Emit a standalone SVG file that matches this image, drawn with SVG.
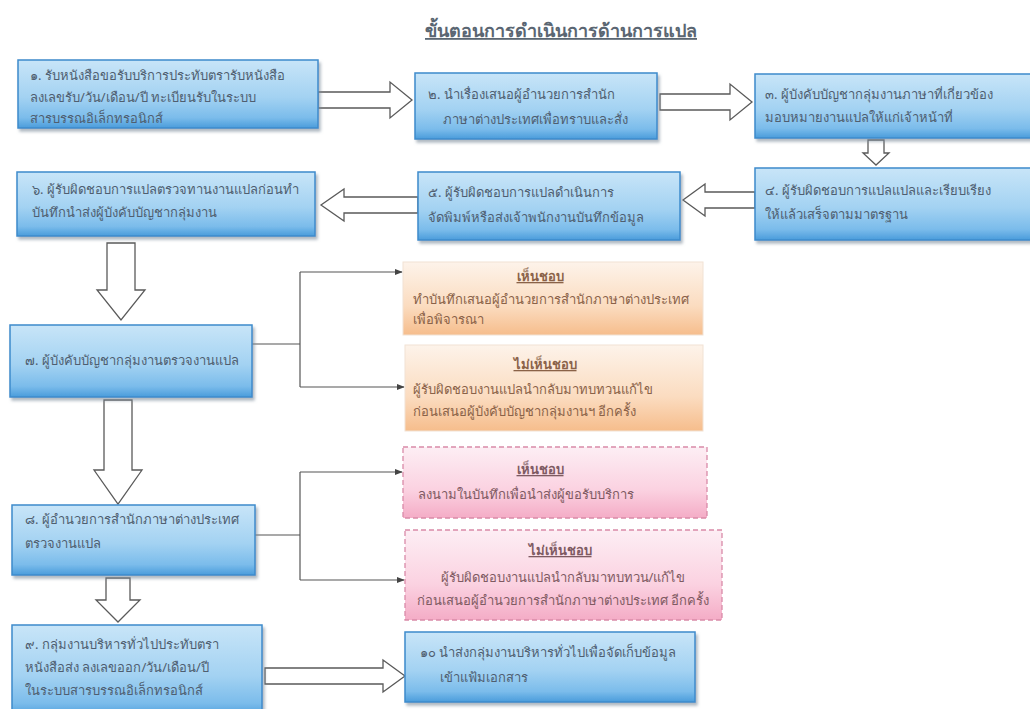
<svg xmlns="http://www.w3.org/2000/svg" width="1030" height="709" viewBox="0 0 1030 709">
<defs>
<linearGradient id="gBlue" x1="0" y1="0" x2="0" y2="1">
<stop offset="0" stop-color="#c8e5f8"/>
<stop offset="0.55" stop-color="#a3d2f2"/>
<stop offset="0.85" stop-color="#7bbceb"/>
<stop offset="1" stop-color="#4a9cdb"/>
</linearGradient>
<linearGradient id="gOrange" x1="0" y1="0" x2="0" y2="1">
<stop offset="0" stop-color="#fdf3ea"/>
<stop offset="0.6" stop-color="#fbdcc0"/>
<stop offset="1" stop-color="#f6bd8c"/>
</linearGradient>
<linearGradient id="gPink" x1="0" y1="0" x2="0" y2="1">
<stop offset="0" stop-color="#fdeef4"/>
<stop offset="0.6" stop-color="#fbd2e1"/>
<stop offset="1" stop-color="#f4acc6"/>
</linearGradient>
<filter id="sh" x="-5%" y="-10%" width="112%" height="130%">
<feDropShadow dx="2" dy="3" stdDeviation="1.5" flood-color="#7a8a99" flood-opacity="0.6"/>
</filter>
<marker id="ah" viewBox="0 0 10 10" refX="9" refY="5" markerWidth="8" markerHeight="8" orient="auto" markerUnits="userSpaceOnUse">
<path d="M0,1 L10,5 L0,9 Z" fill="#444"/>
</marker>
</defs>
<style>
.blue{fill:url(#gBlue);stroke:#3d8bcc;stroke-width:1.5;filter:url(#sh)}
.orange{fill:url(#gOrange);stroke:#f1e2d4;stroke-width:1}
.pink{fill:url(#gPink);stroke:#d98aa8;stroke-width:1.3;stroke-dasharray:5 3}
.t{font-family:"Noto Sans","DejaVu Sans","Liberation Sans",sans-serif;font-size:13px;fill:#4f5e70}
.to{font-family:"Noto Sans","DejaVu Sans","Liberation Sans",sans-serif;font-size:13px;fill:#8a6248}
.tp{font-family:"Noto Sans","DejaVu Sans","Liberation Sans",sans-serif;font-size:13px;fill:#7e5a62}
.h{font-weight:bold;text-decoration:underline;text-anchor:middle}
.title{font-family:"Noto Sans","DejaVu Sans","Liberation Sans",sans-serif;font-size:18px;font-weight:bold;fill:#5a6672;text-decoration:underline;text-anchor:middle}
.ba{fill:#fff;stroke:#5a5a5a;stroke-width:1.3}
.ln{fill:none;stroke:#555;stroke-width:1.2}
</style>
<rect width="1030" height="709" fill="#ffffff"/>
<text class="title" x="561" y="37">ขั้นตอนการดำเนินการด้านการแปล</text>

<g id="connectors">
<path class="ba" d="M318,92 H390 V82 L412,100 L390,118 V108 H318 Z"/>
<path class="ba" d="M660,94 H730 V84 L752,102 L730,120 V110 H660 Z"/>
<path class="ba" d="M868,140 H884 V153 H889 L876,165 L863,153 H868 Z"/>
<path class="ba" d="M755,192 H705 V184 L683,200 L705,216 V208 H755 Z"/>
<path class="ba" d="M418,197 H344 V189 L321,205 L344,221 V213 H418 Z"/>
<path class="ba" d="M107,243 H135 V290 H145 L121,320 L97,290 H107 Z"/>
<path class="ba" d="M104,400 H132 V470 H142 L118,504 L94,470 H104 Z"/>
<path class="ba" d="M106,578 H130 V600 H140 L118,622 L96,600 H106 Z"/>
<path class="ba" d="M265,668 H383 V660 L405,676 L383,692 V684 H265 Z"/>
<path class="ln" d="M252,344 H300"/>
<path class="ln" d="M300,272 V387"/>
<path class="ln" d="M300,272 H402" marker-end="url(#ah)"/>
<path class="ln" d="M300,387 H404" marker-end="url(#ah)"/>
<path class="ln" d="M255,535 H300"/>
<path class="ln" d="M300,472 V580"/>
<path class="ln" d="M300,472 H402" marker-end="url(#ah)"/>
<path class="ln" d="M300,580 H404" marker-end="url(#ah)"/>
</g>

<g id="n1">
<rect class="blue" x="18" y="60" width="300" height="68"/>
<text class="t" x="30" y="80">๑. รับหนังสือขอรับบริการประทับตรารับหนังสือ</text>
<text class="t" x="30" y="102">ลงเลขรับ/วัน/เดือน/ปี ทะเบียนรับในระบบ</text>
<text class="t" x="30" y="123">สารบรรณอิเล็กทรอนิกส์</text>
</g>
<g id="n2">
<rect class="blue" x="415" y="73" width="242" height="66"/>
<text class="t" x="428" y="99">๒. นำเรื่องเสนอผู้อำนวยการสำนัก</text>
<text class="t" x="443" y="124">ภาษาต่างประเทศเพื่อทราบและสั่ง</text>
</g>
<g id="n3">
<rect class="blue" x="755" y="74" width="290" height="64"/>
<text class="t" x="765" y="99">๓. ผู้บังคับบัญชากลุ่มงานภาษาที่เกี่ยวข้อง</text>
<text class="t" x="765" y="122">มอบหมายงานแปลให้แก่เจ้าหน้าที่</text>
</g>
<g id="n4">
<rect class="blue" x="755" y="168" width="290" height="72"/>
<text class="t" x="765" y="195">๔. ผู้รับผิดชอบการแปลแปลและเรียบเรียง</text>
<text class="t" x="765" y="219">ให้แล้วเสร็จตามมาตรฐาน</text>
</g>
<g id="n5">
<rect class="blue" x="418" y="172" width="262" height="68"/>
<text class="t" x="428" y="197">๕. ผู้รับผิดชอบการแปลดำเนินการ</text>
<text class="t" x="428" y="222">จัดพิมพ์หรือส่งเจ้าพนักงานบันทึกข้อมูล</text>
</g>
<g id="n6">
<rect class="blue" x="17" y="172" width="298" height="64"/>
<text class="t" x="32" y="194">๖. ผู้รับผิดชอบการแปลตรวจทานงานแปลก่อนทำ</text>
<text class="t" x="32" y="217">บันทึกนำส่งผู้บังคับบัญชากลุ่มงาน</text>
</g>
<g id="n7">
<rect class="blue" x="10" y="325" width="242" height="72"/>
<text class="t" x="25" y="365">๗. ผู้บังคับบัญชากลุ่มงานตรวจงานแปล</text>
</g>
<g id="n7a">
<rect class="orange" x="403" y="262" width="300" height="73"/>
<text class="to h" x="540" y="281">เห็นชอบ</text>
<text class="to" x="413" y="304">ทำบันทึกเสนอผู้อำนวยการสำนักภาษาต่างประเทศ</text>
<text class="to" x="413" y="324">เพื่อพิจารณา</text>
</g>
<g id="n7b">
<rect class="orange" x="405" y="345" width="298" height="86"/>
<text class="to h" x="545" y="369">ไม่เห็นชอบ</text>
<text class="to" x="413" y="394">ผู้รับผิดชอบงานแปลนำกลับมาทบทวนแก้ไข</text>
<text class="to" x="413" y="416">ก่อนเสนอผู้บังคับบัญชากลุ่มงานฯ อีกครั้ง</text>
</g>
<g id="n8">
<rect class="blue" x="12" y="505" width="243" height="70"/>
<text class="t" x="25" y="524">๘. ผู้อำนวยการสำนักภาษาต่างประเทศ</text>
<text class="t" x="25" y="548">ตรวจงานแปล</text>
</g>
<g id="n8a">
<rect class="pink" x="403" y="447" width="304" height="71"/>
<text class="tp h" x="540" y="474">เห็นชอบ</text>
<text class="tp" x="418" y="499">ลงนามในบันทึกเพื่อนำส่งผู้ขอรับบริการ</text>
</g>
<g id="n8b">
<rect class="pink" x="405" y="530" width="317" height="90"/>
<text class="tp h" x="560" y="555">ไม่เห็นชอบ</text>
<text class="tp" x="563" y="582" text-anchor="middle">ผู้รับผิดชอบงานแปลนำกลับมาทบทวน/แก้ไข</text>
<text class="tp" x="563" y="605" text-anchor="middle">ก่อนเสนอผู้อำนวยการสำนักภาษาต่างประเทศ อีกครั้ง</text>
</g>
<g id="n9">
<rect class="blue" x="12" y="625" width="250" height="92"/>
<text class="t" x="25" y="649">๙. กลุ่มงานบริหารทั่วไปประทับตรา</text>
<text class="t" x="25" y="672">หนังสือส่ง ลงเลขออก/วัน/เดือน/ปี</text>
<text class="t" x="25" y="695">ในระบบสารบรรณอิเล็กทรอนิกส์</text>
</g>
<g id="n10">
<rect class="blue" x="405" y="632" width="290" height="70"/>
<text class="t" x="420" y="657">๑๐ นำส่งกลุ่มงานบริหารทั่วไปเพื่อจัดเก็บข้อมูล</text>
<text class="t" x="440" y="682">เข้าแฟ้มเอกสาร</text>
</g>
</svg>
